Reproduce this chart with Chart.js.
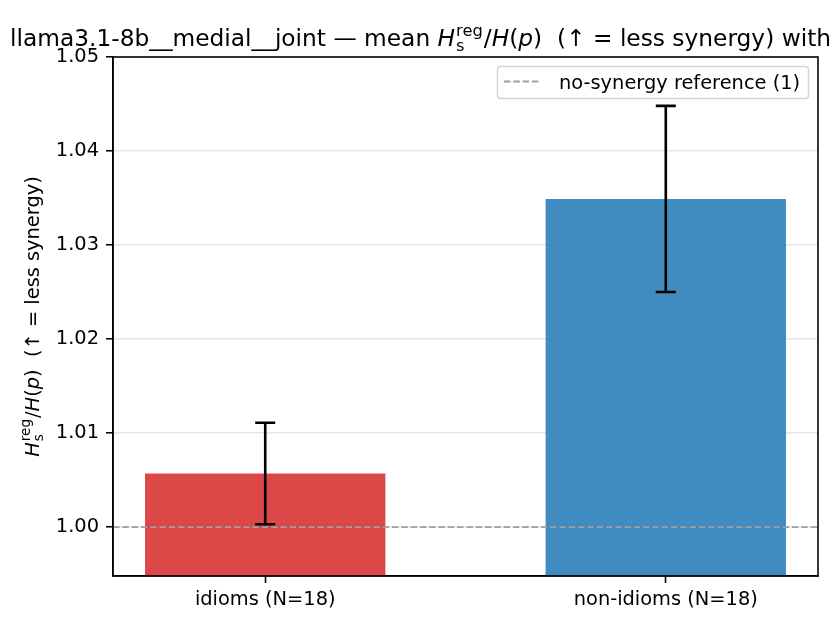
<!DOCTYPE html>
<html>
<head>
<meta charset="utf-8">
<script src="https://cdn.jsdelivr.net/npm/chart.js@4.4.1/dist/chart.umd.min.js"></script>
<style>
  html, body { margin: 0; padding: 0; background: #fff; }
  #wrap { width: 840px; height: 630px; }
</style>
</head>
<body>
<div id="wrap"><canvas id="barChart" width="840" height="630"></canvas></div>
<script>
// values
var categories = ['idioms (N=18)', 'non-idioms (N=18)'];
var means = [1.0057, 1.0349];
var errors = [0.0054, 0.0099];
var barColors = ['rgba(214,39,40,0.85)', 'rgba(31,119,180,0.85)'];
var yTicks = [1.00, 1.01, 1.02, 1.03, 1.04, 1.05];
var yMin = 0.9948, yMax = 1.05;
var xMin = -0.38, xMax = 1.38;
var refValue = 1;
var legendLabel = 'no-synergy reference (1)';

var FONT = "'DejaVu Sans'";
var FS = 19.4;

// draw a run of text pieces, some italic, some with stacked sup/sub (mathtext-ish)
function drawRich(ctx, parts, x, y, size, measureOnly) {
  var cx = x;
  parts.forEach(function (p) {
    if (p.sup !== undefined) {
      var s = size * 0.7;
      ctx.font = s + 'px ' + FONT;
      var w1 = ctx.measureText(p.sup).width;
      var w2 = ctx.measureText(p.sub).width;
      if (!measureOnly) {
        ctx.fillText(p.sup, cx + 1, y - size * 0.42);
        ctx.fillText(p.sub, cx + 1, y + size * 0.22);
      }
      cx += Math.max(w1, w2) + 2;
    } else {
      ctx.font = (p.it ? 'oblique ' : '') + size + 'px ' + FONT;
      if (!measureOnly) ctx.fillText(p.t, cx, y);
      cx += ctx.measureText(p.t).width;
    }
  });
  return cx - x;
}

var mathParts = [
  {t: 'H', it: true}, {sup: 'reg', sub: 's'}, {t: '/'},
  {t: 'H', it: true}, {t: '('}, {t: 'p', it: true}, {t: ')'}
];

var REF_DASH = [6.5, 2.8];

var extras = {
  id: 'extras',
  afterDatasetsDraw: function (chart) {
    var ctx = chart.ctx, a = chart.chartArea;
    var xs = chart.scales.x, ys = chart.scales.y;
    ctx.save();
    // reference line
    var yr = ys.getPixelForValue(refValue);
    ctx.strokeStyle = '#a0a0a0';
    ctx.lineWidth = 1.8;
    ctx.setLineDash(REF_DASH);
    ctx.beginPath();
    ctx.moveTo(a.left, yr);
    ctx.lineTo(a.right, yr);
    ctx.stroke();
    ctx.setLineDash([]);
    // error bars
    ctx.strokeStyle = '#000';
    ctx.lineWidth = 2.6;
    for (var i = 0; i < means.length; i++) {
      var px = xs.getPixelForValue(i);
      var top = ys.getPixelForValue(means[i] + errors[i]);
      var bot = ys.getPixelForValue(means[i] - errors[i]);
      ctx.beginPath();
      ctx.moveTo(px, top); ctx.lineTo(px, bot);
      ctx.moveTo(px - 10, top); ctx.lineTo(px + 10, top);
      ctx.moveTo(px - 10, bot); ctx.lineTo(px + 10, bot);
      ctx.stroke();
    }
    ctx.restore();
  },
  afterDraw: function (chart) {
    var ctx = chart.ctx, a = chart.chartArea;
    ctx.save();
    // frame
    ctx.strokeStyle = '#000';
    ctx.lineWidth = 1.56;
    ctx.strokeRect(a.left, a.top, a.right - a.left, a.bottom - a.top);

    // legend
    ctx.beginPath();
    ctx.roundRect(497.5, 66.5, 311, 32, 3);
    ctx.fillStyle = 'rgba(255,255,255,0.8)';
    ctx.fill();
    ctx.strokeStyle = '#d4d4d4';
    ctx.lineWidth = 1.4;
    ctx.stroke();
    ctx.strokeStyle = '#a0a0a0';
    ctx.lineWidth = 1.8;
    ctx.setLineDash(REF_DASH);
    ctx.beginPath();
    ctx.moveTo(504, 81.5); ctx.lineTo(541, 81.5);
    ctx.stroke();
    ctx.setLineDash([]);
    ctx.fillStyle = '#000';
    ctx.textBaseline = 'alphabetic';
    ctx.font = FS + 'px ' + FONT;
    ctx.fillText(legendLabel, 559, 89);

    // title
    var tsz = 23.3;
    var titleParts = [{t: 'llama3.1-8b__medial__joint \u2014 mean '}]
      .concat(mathParts)
      .concat([{t: '  (\u2191 = less synergy) with'}]);
    drawRich(ctx, titleParts, 10, 45.5, tsz);

    // y label
    var yParts = mathParts.concat([{t: '  (\u2191 = less synergy)'}]);
    var w = drawRich(ctx, yParts, 0, 0, FS, true);
    ctx.translate(38.5, (a.top + a.bottom) / 2);
    ctx.rotate(-Math.PI / 2);
    drawRich(ctx, yParts, -w / 2, 0, FS);
    ctx.restore();
  }
};

var chart = new Chart(document.getElementById('barChart'), {
  type: 'bar',
  data: {
    datasets: [{
      data: means.map(function (v, i) { return {x: i, y: v}; }),
      backgroundColor: barColors,
      borderWidth: 0,
      barPercentage: 0.6,
      categoryPercentage: 1.0
    }]
  },
  options: {
    responsive: false,
    animation: false,
    devicePixelRatio: 1,
    layout: { padding: { left: 0, top: 57, right: 22, bottom: 0 } },
    plugins: { legend: { display: false }, tooltip: { enabled: false }, title: { display: false } },
    scales: {
      x: {
        type: 'linear',
        min: xMin,
        max: xMax,
        offset: false,
        afterFit: function (s) { s.height = 54; },
        afterBuildTicks: function (s) { s.ticks = categories.map(function (c, i) { return {value: i}; }); },
        grid: { offset: false, drawOnChartArea: false, drawTicks: true, tickLength: 7, tickColor: '#000', tickWidth: 1.56 },
        border: { display: true, color: '#000', width: 1.56 },
        ticks: {
          padding: 5.5,
          color: '#000',
          maxRotation: 0,
          autoSkip: false,
          font: { family: 'DejaVu Sans', size: FS },
          callback: function (v) { return categories[v]; }
        }
      },
      y: {
        min: yMin,
        max: yMax,
        afterFit: function (s) { s.width = 113; },
        afterBuildTicks: function (s) { s.ticks = yTicks.map(function (v) { return {value: v}; }); },
        grid: { color: '#e6e6e6', lineWidth: 1.56, drawTicks: true, tickLength: 7, tickColor: '#000', tickWidth: 1.56 },
        border: { display: true, color: '#000', width: 1.56 },
        ticks: {
          padding: 7,
          color: '#000',
          font: { family: 'DejaVu Sans', size: FS },
          callback: function (v) { return Number(v).toFixed(2); }
        }
      }
    }
  },
  plugins: [extras]
});
</script>
</body>
</html>
